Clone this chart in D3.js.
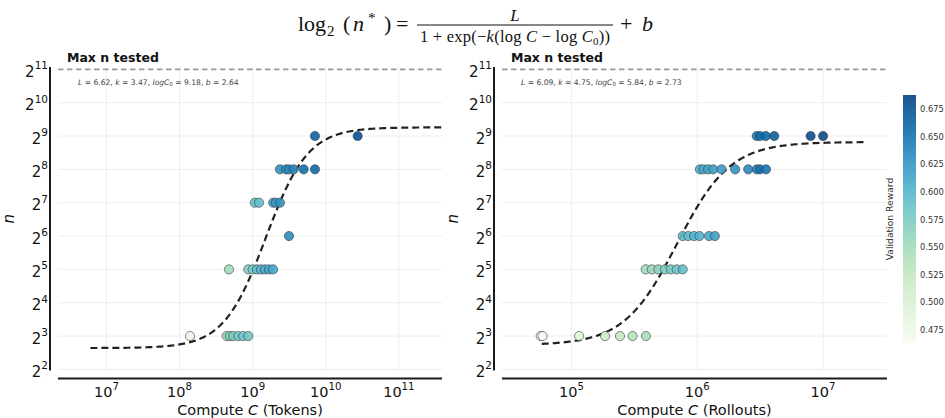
<!DOCTYPE html>
<html>
<head>
<meta charset="utf-8">
<script src="https://cdn.jsdelivr.net/npm/d3@7"></script>
<style>
  html, body { margin: 0; padding: 0; background: #fff; }
  svg { display: block; font-family: "DejaVu Sans", sans-serif; }
</style>
</head>
<body>
<div id="chart"></div>
<script>
// ---- Optimal n vs. compute: observed runs (n, compute C, validation reward) ----
const tokenN       = [512, 512, 256, 256, 256, 256, 256, 256, 128, 128, 128, 128, 128, 64,
                      32, 32, 32, 32, 32, 32, 32, 32, 8, 8, 8, 8, 8, 8, 8];
const tokenCompute = [7.11e9, 2.73e10, 2.36e9, 2.86e9, 3.14e9, 3.64e9, 4.99e9, 7.11e9,
                      1.07e9, 1.22e9, 1.91e9, 2.08e9, 2.36e9, 3.14e9,
                      4.74e8, 8.71e8, 1.0e9, 1.14e9, 1.30e9, 1.47e9, 1.67e9, 1.90e9,
                      1.39e8, 4.41e8, 4.89e8, 5.43e8, 6.35e8, 7.43e8, 8.71e8];
const tokenReward  = [0.662, 0.676, 0.628, 0.632, 0.635, 0.638, 0.655, 0.660,
                      0.588, 0.590, 0.618, 0.622, 0.626, 0.632,
                      0.550, 0.570, 0.575, 0.590, 0.600, 0.608, 0.612, 0.610,
                      0.475, 0.560, 0.568, 0.575, 0.578, 0.580, 0.582];

const rolloutN       = [512, 512, 512, 512, 512, 512,
                        256, 256, 256, 256, 256, 256, 256, 256, 256, 256,
                        64, 64, 64, 64, 64, 64,
                        32, 32, 32, 32, 32, 32, 32,
                        8, 8, 8, 8, 8, 8, 8];
const rolloutCompute = [2.97e6, 3.15e6, 3.50e6, 4.09e6, 7.96e6, 1.00e7,
                        1.05e6, 1.12e6, 1.22e6, 1.34e6, 1.56e6, 2.0e6, 2.54e6, 2.97e6, 3.15e6, 3.52e6,
                        7.66e5, 8.47e5, 9.42e5, 1.04e6, 1.24e6, 1.38e6,
                        3.89e5, 4.35e5, 4.90e5, 5.53e5, 6.15e5, 6.86e5, 7.66e5,
                        5.7e4, 5.9e4, 1.15e5, 1.85e5, 2.43e5, 3.06e5, 3.91e5];
const rolloutReward  = [0.645, 0.655, 0.660, 0.665, 0.678, 0.680,
                        0.605, 0.610, 0.615, 0.618, 0.622, 0.628, 0.635, 0.640, 0.652, 0.648,
                        0.590, 0.595, 0.600, 0.603, 0.610, 0.615,
                        0.550, 0.555, 0.565, 0.570, 0.578, 0.584, 0.590,
                        0.470, 0.470, 0.490, 0.515, 0.525, 0.535, 0.545];

// Fitted sigmoid parameters [L, k, logC0, b]
const tokenFit   = [6.62, 3.47, 9.18, 2.64];
const rolloutFit = [6.09, 4.75, 5.84, 2.73];

// Axis ticks
const nTickExponents       = [2, 3, 4, 5, 6, 7, 8, 9, 10, 11];
const tokenTickExponents   = [7, 8, 9, 10, 11];
const rolloutTickExponents = [5, 6, 7];
const rewardTicks = [0.475, 0.500, 0.525, 0.550, 0.575, 0.600, 0.625, 0.650, 0.675];
const maxNTested = 2048;

const W = 945, H = 418;
const svg = d3.select("#chart").append("svg").attr("width", W).attr("height", H);

const rewardMin = 0.463, rewardMax = 0.688;
const color = d3.scaleSequential(d3.interpolateGnBu).domain([rewardMin, rewardMax]);

const yTop = 67, yBottom = 370.5;
const y = d3.scaleLog().base(2).domain([Math.pow(2, 1.967), Math.pow(2, 11.07)]).range([yBottom, yTop]);

function sigmoidFit(p, C) {
  const [L, k, c0, b] = p;
  return Math.pow(2, L / (1 + Math.exp(-k * (Math.log10(C) - c0))) + b);
}

function drawPanel(opt) {
  const g = svg.append("g");
  const x = d3.scaleLog().domain(opt.xDomain).range([opt.x0, opt.x1]);

  // grid
  g.append("g").selectAll("line").data(opt.xTicks).join("line")
    .attr("x1", d => x(Math.pow(10, d))).attr("x2", d => x(Math.pow(10, d)))
    .attr("y1", yTop).attr("y2", yBottom)
    .attr("stroke", "#ececec").attr("stroke-width", 0.9);
  g.append("g").selectAll("line").data(nTickExponents.slice(0, -1)).join("line")
    .attr("x1", opt.x0).attr("x2", opt.x1)
    .attr("y1", d => y(Math.pow(2, d))).attr("y2", d => y(Math.pow(2, d)))
    .attr("stroke", "#ececec").attr("stroke-width", 0.9);

  // max n tested reference
  g.append("line")
    .attr("x1", opt.x0).attr("x2", opt.x1)
    .attr("y1", y(maxNTested)).attr("y2", y(maxNTested))
    .attr("stroke", "#999").attr("stroke-width", 1.6).attr("stroke-dasharray", "5.5,3.5");
  g.append("text").attr("x", opt.x0 + 9).attr("y", y(maxNTested) - 7)
    .attr("font-size", 12.5).attr("font-weight", "bold").attr("fill", "#111")
    .text("Max n tested");

  // parameter annotation
  const [L, k, c0, b] = opt.fit;
  const ann = g.append("text").attr("x", opt.annX).attr("y", 84.5)
    .attr("font-size", 7.6).attr("fill", "#444");
  ann.append("tspan").attr("font-style", "italic").text("L");
  ann.append("tspan").text(` = ${L.toFixed(2)}, `);
  ann.append("tspan").attr("font-style", "italic").text("k");
  ann.append("tspan").text(` = ${k.toFixed(2)}, `);
  ann.append("tspan").attr("font-style", "italic").text("logC");
  ann.append("tspan").attr("font-size", 5.3).attr("dy", 1.8).text("0");
  ann.append("tspan").attr("dy", -1.8).text(` = ${c0.toFixed(2)}, `);
  ann.append("tspan").attr("font-style", "italic").text("b");
  ann.append("tspan").text(` = ${b.toFixed(2)}`);

  // fitted curve
  const curvePts = d3.range(0, 241).map(i => {
    const lc = opt.curveRange[0] + (opt.curveRange[1] - opt.curveRange[0]) * i / 240;
    const C = Math.pow(10, lc);
    return [C, sigmoidFit(opt.fit, C)];
  });
  g.append("path").datum(curvePts)
    .attr("d", d3.line().x(d => x(d[0])).y(d => y(d[1])))
    .attr("fill", "none").attr("stroke", "#222").attr("stroke-width", 2.2)
    .attr("stroke-dasharray", "7,4");

  // observed runs
  const pts = opt.compute.map((c, i) => ({ c, n: opt.n[i], r: opt.reward[i] }));
  g.append("g").selectAll("circle").data(pts).join("circle")
    .attr("cx", d => x(d.c)).attr("cy", d => y(d.n)).attr("r", 4.6)
    .attr("fill", d => color(d.r)).attr("fill-opacity", 0.9)
    .attr("stroke", "#3a3a3a").attr("stroke-width", 0.6);

  // spines (offset outward)
  g.append("line").attr("x1", opt.x0 - 8).attr("x2", opt.x0 - 8)
    .attr("y1", yTop).attr("y2", yBottom).attr("stroke", "#1a1a1a").attr("stroke-width", 2);
  g.append("line").attr("x1", opt.x0).attr("x2", opt.x1)
    .attr("y1", yBottom + 8).attr("y2", yBottom + 8).attr("stroke", "#1a1a1a").attr("stroke-width", 2);

  // y tick labels 2^k
  nTickExponents.forEach(e => {
    const t = g.append("text").attr("x", opt.x0 - 10).attr("y", y(Math.pow(2, e)) + 7.5)
      .attr("text-anchor", "end").attr("font-size", 15).attr("fill", "#111");
    t.append("tspan").text("2");
    t.append("tspan").attr("font-size", 10.5).attr("dy", -7.5).text(e);
  });

  // x tick labels 10^k
  opt.xTicks.forEach(e => {
    const t = g.append("text").attr("x", x(Math.pow(10, e))).attr("y", 397)
      .attr("text-anchor", "middle").attr("font-size", 14.5).attr("fill", "#111");
    t.append("tspan").text("10");
    t.append("tspan").attr("font-size", 10.2).attr("dy", -7).text(e);
  });

  // axis titles
  const xl = g.append("text").attr("x", (opt.x0 + opt.x1) / 2).attr("y", 415)
    .attr("text-anchor", "middle").attr("font-size", 14.5).attr("fill", "#111");
  xl.append("tspan").text("Compute ");
  xl.append("tspan").attr("font-style", "italic").text("C");
  xl.append("tspan").text(` (${opt.unit})`);

  g.append("text")
    .attr("transform", `translate(${opt.x0 - 44},${(yTop + yBottom) / 2}) rotate(-90)`)
    .attr("text-anchor", "middle").attr("font-size", 15).attr("font-style", "italic")
    .attr("fill", "#111").text("n");
}

drawPanel({
  x0: 58, x1: 442, xDomain: [Math.pow(10, 6.337), Math.pow(10, 11.59)],
  xTicks: tokenTickExponents, fit: tokenFit, curveRange: [6.78, 11.58],
  compute: tokenCompute, n: tokenN, reward: tokenReward,
  unit: "Tokens", annX: 78
});
drawPanel({
  x0: 502, x1: 887, xDomain: [Math.pow(10, 4.448), Math.pow(10, 7.508)],
  xTicks: rolloutTickExponents, fit: rolloutFit, curveRange: [4.764, 7.345],
  compute: rolloutCompute, n: rolloutN, reward: rolloutReward,
  unit: "Rollouts", annX: 521
});

// ---- colorbar ----
const cbX = 903, cbW = 13, cbTop = 95, cbBot = 343;
const cbScale = d3.scaleLinear().domain([rewardMin, rewardMax]).range([cbBot, cbTop]);
const defs = svg.append("defs");
const grad = defs.append("linearGradient").attr("id", "cbGrad")
  .attr("x1", 0).attr("y1", 1).attr("x2", 0).attr("y2", 0);
d3.range(0, 21).forEach(i => {
  grad.append("stop").attr("offset", i / 20)
    .attr("stop-color", d3.interpolateGnBu(i / 20)).attr("stop-opacity", 0.9);
});
svg.append("rect").attr("x", cbX).attr("y", cbTop).attr("width", cbW).attr("height", cbBot - cbTop)
  .attr("fill", "url(#cbGrad)");
svg.append("g").selectAll("text").data(rewardTicks).join("text")
  .attr("x", cbX + cbW + 4).attr("y", d => cbScale(d) + 3)
  .attr("font-size", 8.3).attr("fill", "#333").text(d => d.toFixed(3));
svg.append("text")
  .attr("transform", `translate(893,${(cbTop + cbBot) / 2}) rotate(-90)`)
  .attr("text-anchor", "middle").attr("font-size", 9.2).attr("fill", "#333")
  .text("Validation Reward");

// ---- formula title ----
const serif = '"Liberation Serif", "DejaVu Serif", serif';
const title = svg.append("g").attr("font-family", serif).attr("fill", "#111");
const base = 31;
function piece(x, yy, size, txt, italic) {
  return title.append("text").attr("x", x).attr("y", yy).attr("font-size", size)
    .attr("font-style", italic ? "italic" : "normal").text(txt);
}
piece(298, base, 22, "log");
piece(327, base + 5, 15, "2");
piece(343, base, 22, "(");
piece(353, base, 22, "n", true);
piece(368, base - 8, 15, "*");
piece(384, base, 22, ")");
piece(396, base, 22, "=");

// fraction
const fracX0 = 417, fracX1 = 613, fracMid = (fracX0 + fracX1) / 2;
title.append("line").attr("x1", fracX0).attr("x2", fracX1)
  .attr("y1", base - 6).attr("y2", base - 6).attr("stroke", "#111").attr("stroke-width", 1);
title.append("text").attr("x", fracMid).attr("y", base - 10).attr("font-size", 17)
  .attr("text-anchor", "middle").attr("font-style", "italic").text("L");
const den = title.append("text").attr("x", fracMid).attr("y", base + 11).attr("font-size", 16.5)
  .attr("text-anchor", "middle");
den.append("tspan").text("1 + exp(\u2212");
den.append("tspan").attr("font-style", "italic").text("k");
den.append("tspan").text("(log ");
den.append("tspan").attr("font-style", "italic").text("C");
den.append("tspan").text(" \u2212 log ");
den.append("tspan").attr("font-style", "italic").text("C");
den.append("tspan").attr("font-size", 11).attr("dy", 3).text("0");
den.append("tspan").attr("dy", -3).text("))");
den.attr("textLength", fracX1 - fracX0 - 6).attr("lengthAdjust", "spacing");

piece(620, base, 22, "+");
piece(642, base, 22, "b", true);
</script>
</body>
</html>
